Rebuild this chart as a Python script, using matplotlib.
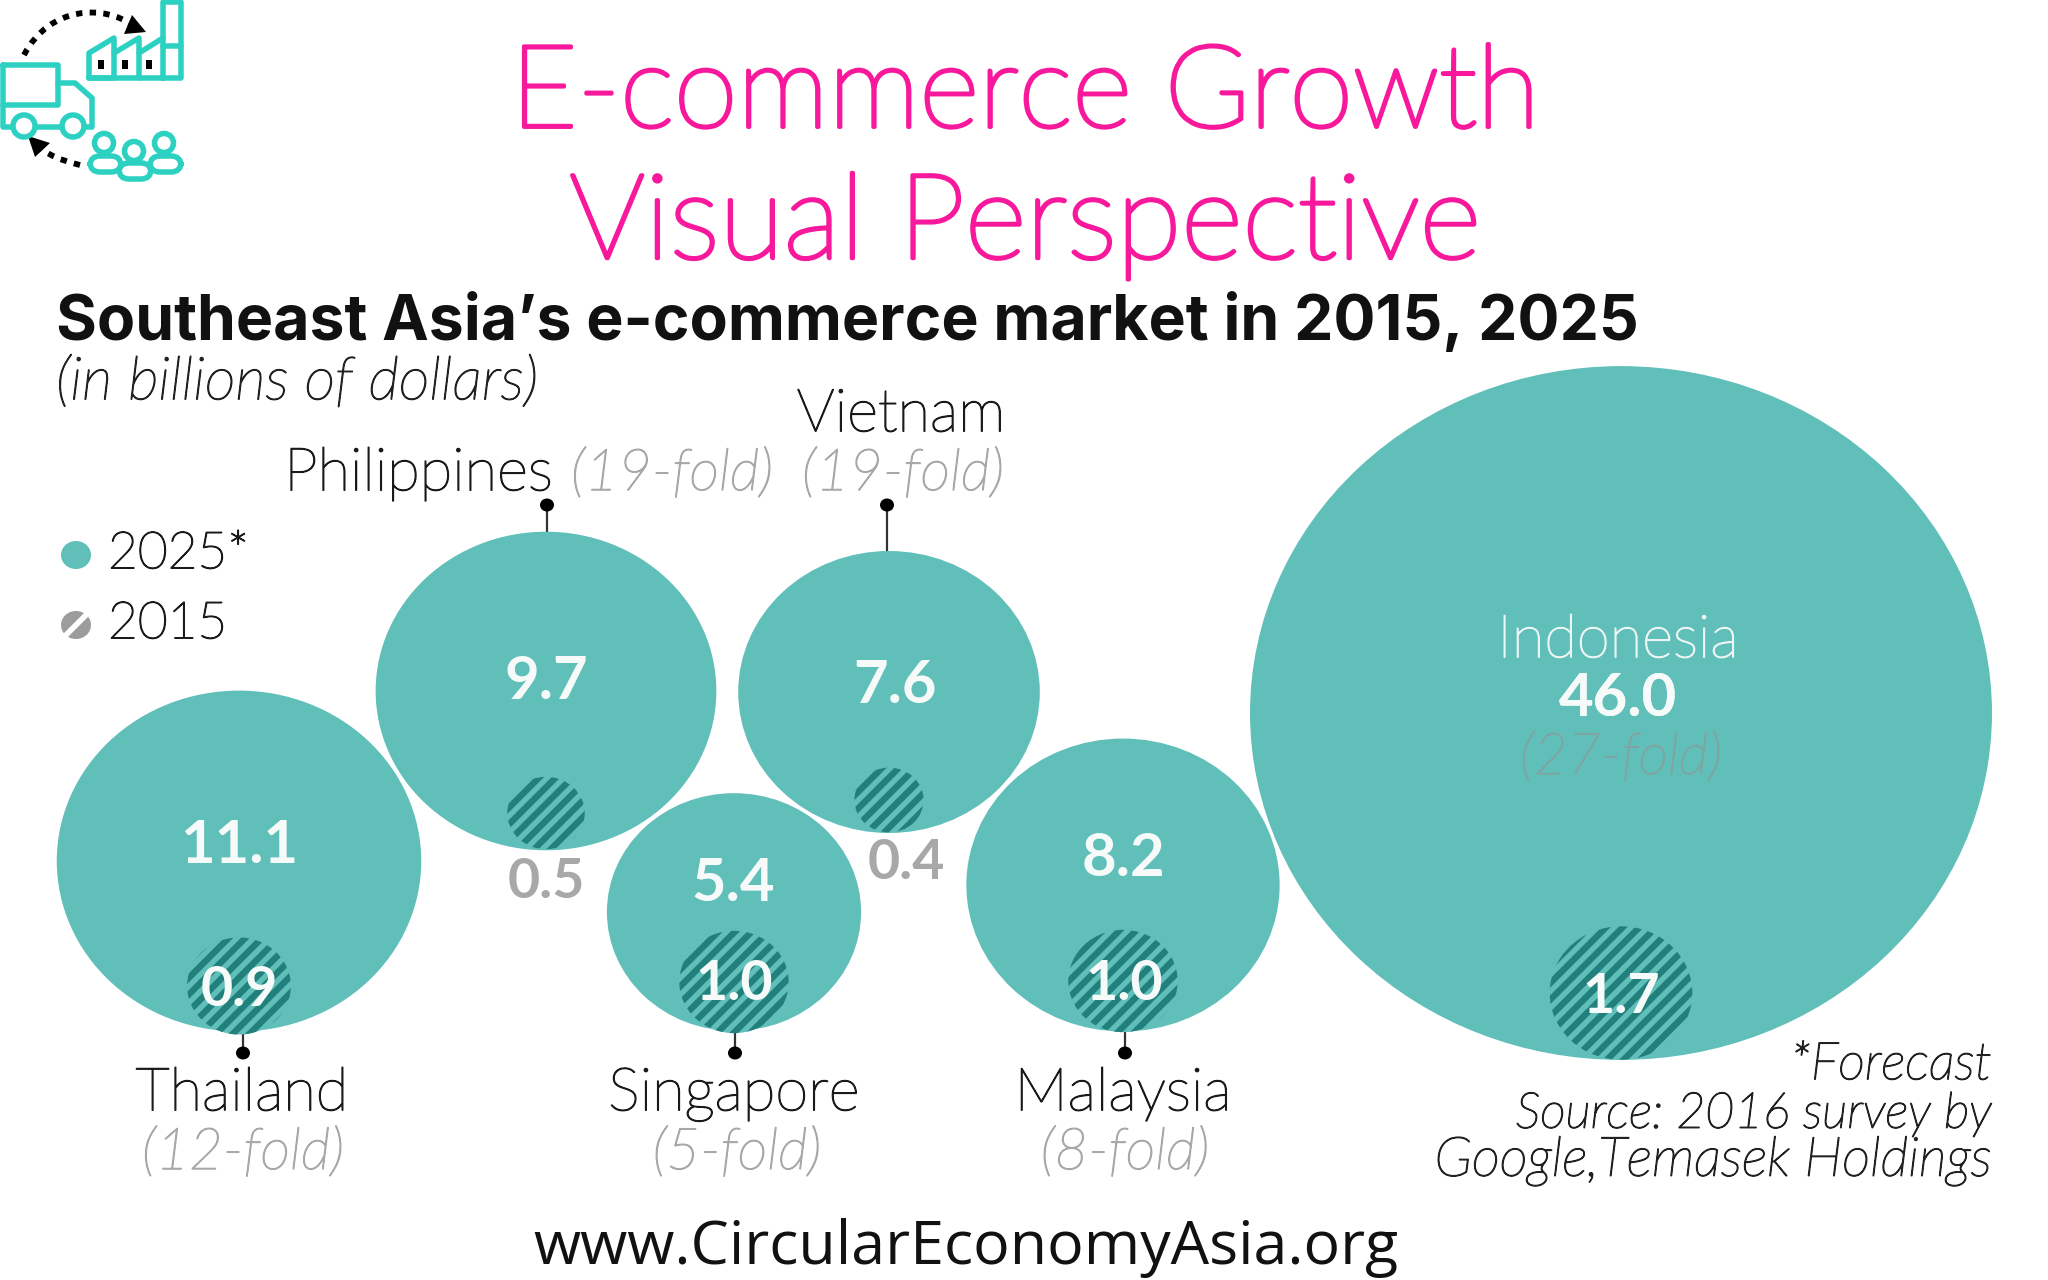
import numpy as np
import matplotlib
matplotlib.use("Agg")
import matplotlib.pyplot as plt
import matplotlib.patheffects as pe
from matplotlib.patches import Circle, Ellipse, Rectangle, Polygon, FancyBboxPatch, PathPatch
from matplotlib.path import Path

# ---------- data ----------
countries = ["Thailand", "Philippines", "Singapore", "Vietnam", "Malaysia", "Indonesia"]
values_2025 = [11.1, 9.7, 5.4, 7.6, 8.2, 46.0]
values_2015 = [0.9, 0.5, 1.0, 0.4, 1.0, 1.7]
folds = ["(12-fold)", "(19-fold)", "(5-fold)", "(19-fold)", "(8-fold)", "(27-fold)"]

# ---------- layout ----------
centers_2025 = [(239, 861), (546, 691), (734, 912), (889, 692), (1123, 885), (1621, 713)]
centers_2015 = [(239, 986), (546, 813), (734, 982), (889, 800), (1123, 981), (1621, 993)]
label_2025_pos = [(239, 842), (546, 678), (733, 880), (895, 682), (1123, 855), (1618, 695)]
label_2015_pos = [(239, 986), (546, 878), (734, 980), (906, 859), (1124, 980), (1621, 993)]
AREA_K = 54.7   # px radius per sqrt(billion)
SQUASH = 0.935  # the reference is slightly compressed vertically

TEAL = "#61BFBA"
DARK = "#217F7C"
GREY = "#A8A8A8"
PINK = "#F7189B"
ICON = "#2DD1C1"
INK = "#1A1A1A"

plt.rcParams["hatch.linewidth"] = 4.6
fig = plt.figure(figsize=(20.48, 12.8), dpi=100)
ax = fig.add_axes([0, 0, 1, 1])
ax.set_xlim(0, 2048)
ax.set_ylim(1280, 0)
ax.axis("off")


def T(x, y, s, size, color=INK, ha="center", va="center", family="Lato", st=0, **kw):
    t = ax.text(x, y + 4, s, fontsize=size, color=color, ha=ha, va=va, family=family, **kw)
    if st:
        t.set_path_effects([pe.withStroke(linewidth=st, foreground=color)])
    return t


def bubble(c, v, **kw):
    r = AREA_K * np.sqrt(v)
    return Ellipse(c, 2 * r, 2 * r * SQUASH, **kw)


# ---------- bubbles ----------
for (c, v) in zip(centers_2025, values_2025):
    ax.add_patch(bubble(c, v, fc=TEAL, ec="none", zorder=2))
for (c, v) in zip(centers_2015, values_2015):
    ax.add_patch(bubble(c, v, fc=TEAL, ec=DARK, hatch="//", lw=0, zorder=3))

VAL = 43
for i, (p, v) in enumerate(zip(label_2025_pos, values_2025)):
    T(p[0], p[1], f"{v:.1f}", VAL, "#F6FBFA", weight="bold", zorder=5)
for i, (p, v) in enumerate(zip(label_2015_pos, values_2015)):
    inside = countries[i] not in ("Philippines", "Vietnam")
    T(p[0], p[1], f"{v:.1f}", 40, "#F6FBFA" if inside else GREY, weight="bold", zorder=5)

# ---------- leaders ----------
stems = [(243, 1000, 1053), (547, 600, 505), (735, 1000, 1053), (887, 600, 505), (1125, 1000, 1053)]
for x, y0, y1 in stems:
    ax.plot([x, x], [y0, y1], color="#333333", lw=1.6, zorder=1)
    ax.add_patch(Ellipse((x, y1), 14, 13, fc="black", ec="none", zorder=4))

# ---------- country labels ----------
LAB = 43
FOLD = 41.5
S = 1.0
T(242, 1090, countries[0], LAB, weight="light", st=S)
T(243, 1149, folds[0], FOLD, GREY, style="italic", weight="light", st=S)
T(734, 1090, countries[2], LAB, weight="light", st=S)
T(737, 1149, folds[2], FOLD, GREY, style="italic", weight="light", st=S)
T(1123, 1090, countries[4], LAB, weight="light", st=S)
T(1125, 1149, folds[4], FOLD, GREY, style="italic", weight="light", st=S)
T(553, 470, countries[1], LAB, ha="right", weight="light", st=S)
T(571, 470, folds[1], FOLD, GREY, ha="left", style="italic", weight="light", st=S)
T(901, 411, countries[3], LAB, weight="light", st=S)
T(903, 470, folds[3], FOLD, GREY, style="italic", weight="light", st=S)
T(1618, 637, countries[5], LAB, "#EAF5F4", weight="light", st=S)
T(1618, 695, f"{values_2025[5]:.1f}", VAL, "#F6FBFA", weight="bold", zorder=5)
T(1621, 754, folds[5], FOLD, "#7EA5A2", style="italic", weight="light", st=S, zorder=5)

# ---------- legend ----------
ax.add_patch(Ellipse((76, 555), 30, 28, fc=TEAL, ec="none"))
lg = Ellipse((76, 625), 30, 28, fc="#9C9C9C", ec="none")
ax.add_patch(lg)
band, = ax.plot([56, 96], [645, 605], color="white", lw=4, zorder=3)
band.set_clip_path(Circle((76, 625), 16, transform=ax.transData))
T(108, 550, "2025*", 37, ha="left", weight="light", st=S)
T(108, 620, "2015", 37, ha="left", weight="light", st=S)

# ---------- headings ----------
T(1025, 92, "E-commerce Growth", 83, PINK, weight="light", st=2.8)
T(1025, 222, "Visual Perspective", 85.5, PINK, weight="light", st=2.8)
T(56, 319, "Southeast Asia\u2019s e-commerce market in 2015, 2025", 45, "#111111",
  ha="left", weight="bold", family="Inter")
T(56, 379, "(in billions of dollars)", 43, "#222222", ha="left", style="italic", weight="light", st=S)

for y, s, fs in zip((1064, 1113, 1160),
                    ("*Forecast", "Source: 2016 survey by", "Google,Temasek Holdings"),
                    (37.5, 35.8, 39.3)):
    T(1992, y - 3, s, fs, "#222222", ha="right", style="italic", weight="light", st=S)

T(966, 1244, "www.CircularEconomyAsia.org", 43.8, "#111111", family="Open Sans")

# ---------- icon ----------
iw = 5.5
def L(xs, ys, **kw):
    ax.plot(xs, ys, color=kw.pop("color", ICON), lw=iw * 0.72, solid_joinstyle="round",
            solid_capstyle="round", **kw)

# factory
L([89, 89, 114, 114, 89], [78, 53, 38, 78, 78])
L([114, 139, 139], [53, 38, 78])
L([139, 163], [53, 38])
L([89, 181, 181, 163, 163], [78, 78, 2, 2, 78])
L([163, 181], [46, 46])
for x in (101, 125, 149):
    ax.add_patch(Rectangle((x - 3, 60), 6, 9, fc="black", ec="none"))
# truck
L([3, 58, 58, 3, 3], [65, 65, 105, 105, 65])
L([3, 3, 92, 92, 75, 58], [105, 127, 127, 98, 83, 83])
for x in (24, 73):
    ax.add_patch(Circle((x, 126), 11, fc="white", ec=ICON, lw=iw * 0.72, zorder=3))
# people
for (x, y, bx, by, bw) in [(104, 143, 90, 156, 31), (164, 143, 150, 156, 31), (134, 151, 119, 163, 32)]:
    ax.add_patch(Circle((x, y), 9.5, fc="white", ec=ICON, lw=iw * 0.72, zorder=3))
    ax.add_patch(FancyBboxPatch((bx, by), bw, 16, boxstyle="round,pad=0,rounding_size=10",
                                fc="white", ec=ICON, lw=iw * 0.72, zorder=3 if x == 134 else 2))
# dotted arcs
arc1 = Path([(24, 55), (50, 5), (105, 5), (132, 25)], [Path.MOVETO, Path.CURVE4, Path.CURVE4, Path.CURVE4])
ax.add_patch(PathPatch(arc1, fc="none", ec="black", lw=4.2, ls=(0, (1.1, 1.25))))
ax.add_patch(Polygon([(132, 15), (146, 32), (124, 34)], fc="black", ec="none"))
arc2 = Path([(80, 165), (60, 160), (48, 155), (38, 146)], [Path.MOVETO, Path.CURVE4, Path.CURVE4, Path.CURVE4])
ax.add_patch(PathPatch(arc2, fc="none", ec="black", lw=4.2, ls=(0, (1.1, 1.25))))
ax.add_patch(Polygon([(28, 136), (50, 143), (35, 157)], fc="black", ec="none"))

fig.savefig("out.png", dpi=100, facecolor="white")
